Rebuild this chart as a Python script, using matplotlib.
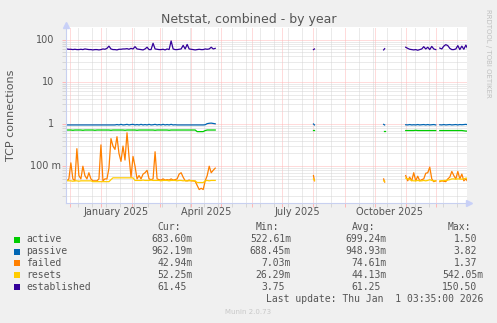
import numpy as np
import pandas as pd
import matplotlib
matplotlib.use("Agg")
import matplotlib.pyplot as plt
from matplotlib.patches import Rectangle
from matplotlib.transforms import blended_transform_factory

nan = np.nan

# --- dates of the stretches that carry data ---
dates_a = pd.date_range("2024-11-28", "2025-04-25", freq="2D")
dates_b = pd.to_datetime(["2025-08-01", "2025-08-02"])
dates_c = pd.to_datetime(["2025-10-10", "2025-10-11"])
dates_d = pd.date_range("2025-11-01", "2026-01-02", freq="2D")

# --- values ---
active_a = [0.72, 0.72, 0.72, 0.71, 0.72, 0.72, 0.72, 0.72, 0.71, 0.72,
            0.72, 0.72, 0.72, 0.72, 0.71, 0.72, 0.72, 0.72, 0.72, 0.72,
            0.72, 0.72, 0.71, 0.72, 0.72, 0.72, 0.72, 0.72, 0.72, 0.71,
            0.72, 0.72, 0.72, 0.72, 0.72, 0.71, 0.72, 0.72, 0.72, 0.72,
            0.72, 0.72, 0.72, 0.72, 0.71, 0.72, 0.72, 0.72, 0.72, 0.72,
            0.72, 0.71, 0.72, 0.72, 0.72, 0.72, 0.72, 0.72, 0.72, 0.72,
            0.72, 0.72, 0.72, 0.72, 0.72, 0.66, 0.66, 0.66, 0.66, 0.70,
            0.72, 0.72, 0.72, 0.72, 0.72]
passive_a = [0.95, 0.95, 0.95, 0.95, 0.95, 0.95, 0.95, 0.95, 0.95, 0.95,
             0.95, 0.95, 0.95, 0.95, 0.95, 0.95, 0.95, 0.95, 0.95, 0.95,
             0.95, 0.95, 0.95, 0.95, 0.95, 0.97, 0.95, 0.98, 0.95, 0.96,
             0.98, 0.95, 0.97, 0.98, 0.95, 0.97, 0.95, 0.98, 0.95, 0.97,
             0.95, 0.98, 0.95, 0.96, 0.98, 0.95, 0.97, 0.95, 0.98, 0.95,
             0.97, 0.95, 0.98, 0.95, 0.96, 0.95, 0.95, 0.95, 0.95, 0.95,
             0.95, 0.95, 0.95, 0.95, 0.95, 0.95, 0.95, 0.95, 0.95, 0.96,
             1.02, 1.04, 1.05, 1.03, 1.01]
failed_a = [0.045, 0.05, 0.12, 0.05, 0.045, 0.26, 0.06, 0.05, 0.10, 0.06,
            0.05, 0.07, 0.05, 0.045, 0.045, 0.045, 0.05, 0.32, 0.045, 0.05,
            0.05, 0.09, 0.45, 0.30, 0.25, 0.50, 0.20, 0.13, 0.30, 0.14,
            0.62, 0.17, 0.055, 0.17, 0.10, 0.05, 0.06, 0.05, 0.065, 0.07,
            0.08, 0.05, 0.048, 0.05, 0.22, 0.05, 0.048, 0.047, 0.05, 0.047,
            0.048, 0.047, 0.05, 0.047, 0.048, 0.05, 0.065, 0.07, 0.055, 0.045,
            0.045, 0.047, 0.045, 0.045, 0.044, 0.035, 0.028, 0.03, 0.028, 0.045,
            0.06, 0.10, 0.07, 0.08, 0.09]
resets_a = [0.046, 0.045, 0.045, 0.044, 0.045, 0.045, 0.044, 0.045, 0.045, 0.045,
            0.045, 0.045, 0.045, 0.043, 0.043, 0.043, 0.043, 0.043, 0.043, 0.043,
            0.043, 0.043, 0.048, 0.053, 0.053, 0.053, 0.053, 0.053, 0.053, 0.053,
            0.053, 0.053, 0.053, 0.053, 0.046, 0.046, 0.046, 0.046, 0.047, 0.046,
            0.046, 0.046, 0.047, 0.046, 0.046, 0.046, 0.046, 0.045, 0.046, 0.046,
            0.046, 0.045, 0.046, 0.046, 0.046, 0.045, 0.046, 0.046, 0.045, 0.046,
            0.045, 0.045, 0.046, 0.045, 0.045, 0.041, 0.041, 0.041, 0.041, 0.045,
            0.046, 0.045, 0.046, 0.046, 0.046]
established_a = [60, 59, 59, 58, 59, 58, 58, 59, 58, 60,
                 59, 58, 58, 57, 58, 58, 57, 58, 60, 59,
                 62, 70, 60, 58, 58, 57, 59, 59, 60, 60,
                 61, 59, 62, 60, 68, 60, 59, 58, 57, 60,
                 66, 58, 58, 82, 60, 59, 58, 58, 59, 57,
                 60, 58, 93, 60, 58, 58, 59, 60, 73, 60,
                 77, 60, 59, 58, 57, 58, 59, 58, 58, 60,
                 59, 60, 66, 60, 62]

active_b, passive_b, failed_b, resets_b, established_b = (
    [0.72, 0.72], [1.0, 0.95], [0.06, 0.045], [0.05, 0.046], [58, 60])
active_c, passive_c, failed_c, resets_c, established_c = (
    [0.70, 0.70], [0.98, 0.95], [0.05, 0.042], [0.045, 0.044], [57, 61])

active_d = [0.70, 0.70, 0.70, 0.70, 0.70, 0.71, 0.70, 0.70, 0.70, 0.70,
            0.70, 0.70, 0.70, 0.70, 0.70, 0.70, nan, 0.70, 0.70, 0.70,
            0.70, 0.70, 0.70, 0.70, 0.70, 0.70, 0.70, 0.70, 0.70, 0.69,
            0.68, 0.68]
passive_d = [0.96, 0.95, 0.97, 0.95, 0.96, 0.95, 0.97, 0.95, 0.96, 0.97,
             0.95, 0.97, 0.95, 0.96, 0.97, 0.95, nan, 0.96, 0.95, 0.97,
             0.95, 0.96, 0.97, 0.95, 0.96, 0.97, 0.95, 0.97, 0.96, 0.97,
             0.98, 0.96]
failed_d = [0.06, 0.045, 0.055, 0.045, 0.07, 0.045, 0.058, 0.045, 0.048, 0.05,
            0.068, 0.07, 0.095, 0.05, 0.043, 0.045, nan, 0.043, 0.045, 0.044,
            0.043, 0.05, 0.055, 0.075, 0.06, 0.05, 0.075, 0.05, 0.065, 0.045,
            0.05, 0.043]
resets_d = [0.052, 0.05, 0.048, 0.046, 0.045, 0.045, 0.046, 0.045, 0.045, 0.046,
            0.045, 0.046, 0.048, 0.046, 0.045, 0.045, nan, 0.045, 0.045, 0.046,
            0.046, 0.047, 0.048, 0.05, 0.05, 0.049, 0.05, 0.05, 0.049, 0.05,
            0.052, 0.052]
established_d = [66, 62, 59, 58, 57, 58, 56, 58, 60, 68,
                 60, 66, 58, 69, 60, 58, nan, 63, 60, 70,
                 76, 72, 62, 58, 58, 60, 72, 58, 70, 59,
                 74, 60]

names = ["active", "passive", "failed", "resets", "established"]
colors = ["#00cc00", "#0066b3", "#ff8000", "#ffcc00", "#330099"]
cur_vals = ["683.60m", "962.19m", "42.94m", "52.25m", "61.45"]
min_vals = ["522.61m", "688.45m", "7.03m", "26.29m", "3.75"]
avg_vals = ["699.24m", "948.93m", "74.61m", "44.13m", "61.25"]
max_vals = ["1.50", "3.82", "1.37", "542.05m", "150.50"]

series = {
    "active": [active_a, active_b, active_c, active_d],
    "passive": [passive_a, passive_b, passive_c, passive_d],
    "failed": [failed_a, failed_b, failed_c, failed_d],
    "resets": [resets_a, resets_b, resets_c, resets_d],
    "established": [established_a, established_b, established_c, established_d],
}
seg_dates = [dates_a, dates_b, dates_c, dates_d]

# --- figure, pixel based layout ---
W, H = 497, 323
L, R, T, B = 66, 467, 27, 203
fig = plt.figure(figsize=(W / 100, H / 100), dpi=100, facecolor="#f0f0f0")
ax = fig.add_axes([L / W, 1 - B / H, (R - L) / W, (B - T) / H])
ax.set_facecolor("white")
ax.set_yscale("log")
ax.set_ylim(10 ** (-79 / 42.2), 10 ** (97 / 42.2))
ax.set_xlim(pd.Timestamp("2024-11-27 03:35"), pd.Timestamp("2026-01-01 03:35"))

month_starts = pd.date_range("2024-12-01", "2025-12-01", freq="MS")
two_weeks = pd.date_range("2024-12-09", "2025-12-31", freq="14D")
ax.set_xticks(month_starts)
ax.set_xticks(two_weeks, minor=True)
ax.set_xticklabels([])
ax.set_yticks([0.1, 1, 10, 100])
ax.set_yticklabels([])
ax.yaxis.set_minor_formatter(plt.NullFormatter())

red = (1.0, 0.72, 0.72)
grey = (0.84, 0.84, 0.84)
dots = (0, (1, 1))
ax.grid(True, which="major", color=red, linestyle=dots, linewidth=0.72)
ax.grid(True, which="minor", color=grey, linestyle=dots, linewidth=0.72)
ax.set_axisbelow(True)
ax.tick_params(which="major", direction="out", length=3, width=0.72, color=red)
ax.tick_params(which="minor", direction="out", length=3, width=0.72, color=grey)

for s in ["top", "right"]:
    ax.spines[s].set_visible(False)
for s in ["left", "bottom"]:
    ax.spines[s].set_color("#c8d0f0")
    ax.spines[s].set_linewidth(0.8)
ax.plot([1.005], [0], marker=">", color="#c8d0f8", markersize=5,
        transform=ax.transAxes, clip_on=False)
ax.plot([0], [1.01], marker="^", color="#c8d0f8", markersize=5,
        transform=ax.transAxes, clip_on=False)

for name, col in zip(names, colors):
    for d, v in zip(seg_dates, series[name]):
        ax.plot(d, v, color=col, linewidth=0.9)

text_col = "#555555"
# y labels (rrdtool style)
ty = blended_transform_factory(ax.transAxes, ax.transData)
for val, lab, right in [(100, "100", 54), (10, "10", 54), (1, "1", 54), (0.1, "100 m", 61)]:
    ax.text((right - L) / (R - L), val, lab, transform=ty, ha="right", va="center",
            fontsize=7, color=text_col)
# x labels, centred mid month
tx = blended_transform_factory(ax.transData, ax.transAxes)
for d, lab in [("2025-01-16", "January 2025"), ("2025-04-16", "April 2025"),
               ("2025-07-16", "July 2025"), ("2025-10-16", "October 2025")]:
    ax.text(pd.Timestamp(d), -(212 - B) / (B - T), lab, transform=tx,
            ha="center", va="center", fontsize=7, color=text_col)

fig.text(248.5 / W, 1 - 23.5 / H, "Netstat, combined - by year", ha="center",
         va="baseline", fontsize=9, color=text_col)
fig.text(11 / W, 1 - 115 / H, "TCP connections", rotation=90, ha="center",
         va="center", fontsize=8, color=text_col)
fig.text(488 / W, 1 - 53 / H, "RRDTOOL / TOBI OETIKER", rotation=270, ha="center",
         va="center", fontsize=5, color="#c0c0c0")

# --- legend table ---
mono = "DejaVu Sans Mono"
cw = 7 * 100 / 72 * 0.602
col_right = [193, 291, 387, 483]
for xr, head in zip(col_right, ["Cur:", "Min:", "Avg:", "Max:"]):
    fig.text((xr - 2 * cw) / W, 1 - 227 / H, head, ha="right", va="center",
             family=mono, fontsize=7, color=text_col)
row_y = [239.5, 251.5, 263.3, 275.3, 287.3]
for i, (name, col) in enumerate(zip(names, colors)):
    y = row_y[i]
    fig.patches.append(Rectangle((14 / W, 1 - (y + 3) / H), 6 / W, 6 / H,
                                 transform=fig.transFigure, facecolor=col,
                                 edgecolor="none"))
    fig.text(26 / W, 1 - y / H, name, ha="left", va="center", family=mono,
             fontsize=7, color=text_col)
    for xr, vals in zip(col_right, [cur_vals, min_vals, avg_vals, max_vals]):
        v = vals[i]
        xx = xr if v.endswith("m") else xr - cw
        fig.text(xx / W, 1 - y / H, v, ha="right", va="center", family=mono,
                 fontsize=7, color=text_col)
fig.text(483 / W, 1 - 299.5 / H, "Last update: Thu Jan  1 03:35:00 2026",
         ha="right", va="center", family=mono, fontsize=7, color=text_col)
fig.text(248 / W, 1 - 312 / H, "Munin 2.0.73", ha="center", va="center",
         fontsize=5, color="#c8c8c8")

fig.savefig("out.png", dpi=100, facecolor=fig.get_facecolor())
